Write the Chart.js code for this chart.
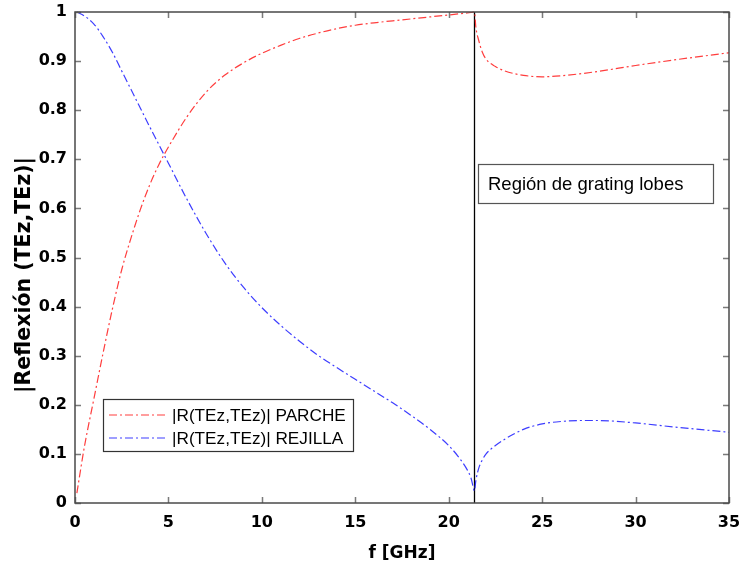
<!DOCTYPE html>
<html>
<head>
<meta charset="utf-8">
<script src="https://cdn.jsdelivr.net/npm/chart.js@4"></script>
<style>
  html, body { margin: 0; padding: 0; background: #ffffff; }
  #wrap { width: 740px; height: 569px; }
</style>
</head>
<body>
<div id="wrap"><canvas id="chart" width="740" height="569"></canvas></div>
<script>
// Frequency samples (GHz)
const freqGHz = [
  0.1, 0.5, 1.0, 1.5, 2.0, 2.5, 3.0, 3.5, 4.0, 4.5, 5.0, 6.0, 7.0, 8.0, 9.0,
  10, 11, 12, 13, 14, 15, 16, 17, 18, 19, 20, 20.5, 21.0, 21.2, 21.38,
  21.45, 21.6, 21.8, 22.0, 22.5, 23, 24, 25, 26, 27, 28, 30, 32, 35
];

// |R(TEz,TEz)| for the patch array
const parche = [
  0.020, 0.114, 0.210, 0.305, 0.395, 0.475, 0.540, 0.598, 0.648, 0.690, 0.725, 0.787, 0.836, 0.871, 0.896,
  0.916, 0.932, 0.946, 0.957, 0.966, 0.973, 0.978, 0.982, 0.986, 0.990, 0.994, 0.996, 0.998, 0.999, 1.000,
  0.970, 0.943, 0.918, 0.904, 0.889, 0.880, 0.871, 0.868, 0.870, 0.874, 0.879, 0.891, 0.902, 0.917
];

// |R(TEz,TEz)| for the grid (rejilla)
const rejilla = [
  1.000, 0.992, 0.976, 0.950, 0.918, 0.880, 0.842, 0.804, 0.766, 0.729, 0.692, 0.618, 0.550, 0.490, 0.440,
  0.398, 0.362, 0.330, 0.301, 0.276, 0.252, 0.228, 0.204, 0.178, 0.150, 0.117, 0.095, 0.067, 0.050, 0.025,
  0.045, 0.070, 0.088, 0.100, 0.117, 0.130, 0.150, 0.161, 0.166, 0.168, 0.168, 0.163, 0.155, 0.144
];

// Onset of the grating-lobe region (GHz)
const gratingOnsetGHz = 21.38;

// Axis tick values
const xTickValues = [0, 5, 10, 15, 20, 25, 30, 35];
const yTickValues = [0, 0.1, 0.2, 0.3, 0.4, 0.5, 0.6, 0.7, 0.8, 0.9, 1];

const seriesLabels = ['|R(TEz,TEz)| PARCHE', '|R(TEz,TEz)| REJILLA'];
const yAxisLabel = '|Reflexión (TEz,TEz)|';
const annotationText = 'Región de grating lobes';

const dashDot = [8, 3, 2, 3];
const textFont = '"Liberation Sans", Arial, sans-serif';
const boldFont = '"DejaVu Sans", sans-serif';

function toPoints(xs, ys) {
  return xs.map((x, i) => ({ x: x, y: ys[i] }));
}

// Inward tick marks on all four sides, the axes box, y label, note and legend
const axesBoxPlugin = {
  id: 'axesBox',
  afterDatasetsDraw(chart) {
    const { ctx, chartArea: a, scales } = chart;
    const tick = 6;
    ctx.save();
    ctx.strokeStyle = '#7a7a7a';
    ctx.lineWidth = 1.5;
    ctx.beginPath();
    scales.x.ticks.forEach(t => {
      const px = Math.round(scales.x.getPixelForValue(t.value)) + 0.5;
      ctx.moveTo(px, a.bottom); ctx.lineTo(px, a.bottom - tick);
      ctx.moveTo(px, a.top); ctx.lineTo(px, a.top + tick);
    });
    scales.y.ticks.forEach(t => {
      const py = Math.round(scales.y.getPixelForValue(t.value)) + 0.5;
      ctx.moveTo(a.left, py); ctx.lineTo(a.left + tick, py);
      ctx.moveTo(a.right, py); ctx.lineTo(a.right - tick, py);
    });
    ctx.stroke();
    ctx.strokeStyle = '#4a4a4a';
    ctx.lineWidth = 1.5;
    ctx.strokeRect(a.left, a.top, a.right - a.left, a.bottom - a.top);
    ctx.restore();
  },
  afterDraw(chart) {
    const { ctx } = chart;
    ctx.save();

    // Rotated y-axis label
    ctx.save();
    ctx.translate(25, 275);
    ctx.rotate(-Math.PI / 2);
    ctx.fillStyle = '#000000';
    ctx.font = 'bold 20.5px ' + boldFont;
    ctx.textAlign = 'center';
    ctx.textBaseline = 'middle';
    ctx.fillText(yAxisLabel, 0, 0);
    ctx.restore();

    // Text box marking the grating-lobe region
    const bx = 478, by = 164, bw = 235, bh = 39;
    ctx.fillStyle = '#ffffff';
    ctx.fillRect(bx, by, bw, bh);
    ctx.strokeStyle = '#555555';
    ctx.lineWidth = 1.2;
    ctx.strokeRect(bx + 0.5, by + 0.5, bw, bh);
    ctx.fillStyle = '#000000';
    ctx.font = '18.5px ' + textFont;
    ctx.textBaseline = 'middle';
    ctx.textAlign = 'left';
    ctx.fillText(annotationText, bx + 10, by + bh / 2 + 1);

    // Legend
    const lx = 103, ly = 399, lw = 250, lh = 52;
    ctx.fillStyle = '#ffffff';
    ctx.fillRect(lx, ly, lw, lh);
    ctx.strokeStyle = '#333333';
    ctx.lineWidth = 1.2;
    ctx.strokeRect(lx + 0.5, ly + 0.5, lw, lh);
    ctx.font = '17.2px ' + textFont;
    const shown = chart.data.datasets.filter(d => d.inLegend);
    shown.forEach((d, i) => {
      const ry = ly + 16 + i * 23;
      ctx.strokeStyle = d.borderColor;
      ctx.lineWidth = d.borderWidth;
      ctx.setLineDash(d.borderDash);
      ctx.beginPath();
      ctx.moveTo(lx + 6, ry);
      ctx.lineTo(lx + 62, ry);
      ctx.stroke();
      ctx.setLineDash([]);
      ctx.fillStyle = '#000000';
      ctx.fillText(d.label, lx + 69, ry + 1);
    });
    ctx.restore();
  }
};

new Chart(document.getElementById('chart'), {
  type: 'line',
  data: {
    datasets: [
      {
        label: seriesLabels[0],
        data: toPoints(freqGHz, parche),
        borderColor: 'rgba(255, 40, 40, 0.9)',
        borderWidth: 1.2,
        borderDash: dashDot,
        pointRadius: 0,
        cubicInterpolationMode: 'monotone',
        fill: false,
        clip: 3,
        inLegend: true
      },
      {
        label: seriesLabels[1],
        data: toPoints(freqGHz, rejilla),
        borderColor: 'rgba(40, 40, 255, 0.9)',
        borderWidth: 1.2,
        borderDash: dashDot,
        pointRadius: 0,
        cubicInterpolationMode: 'monotone',
        fill: false,
        clip: 3,
        inLegend: true
      },
      {
        label: 'grating',
        data: [{ x: gratingOnsetGHz, y: 0 }, { x: gratingOnsetGHz, y: 1 }],
        borderColor: '#000000',
        borderWidth: 1.3,
        pointRadius: 0,
        fill: false,
        inLegend: false
      }
    ]
  },
  options: {
    responsive: false,
    animation: false,
    events: [],
    layout: { padding: { top: 12, right: 11, left: 0, bottom: 0 } },
    plugins: {
      legend: { display: false },
      tooltip: { enabled: false }
    },
    scales: {
      x: {
        type: 'linear',
        min: 0, max: 35,
        afterBuildTicks: s => { s.ticks = xTickValues.map(v => ({ value: v })); },
        afterFit: s => { s.height = 66; s.paddingLeft = 0; s.paddingRight = 0; },
        grid: { display: false, drawTicks: false },
        border: { display: false },
        ticks: {
          padding: 10,
          color: '#000000',
          font: { family: boldFont, weight: 'bold', size: 16 },
          callback: v => String(v)
        },
        title: {
          display: true,
          text: 'f [GHz]',
          color: '#000000',
          font: { family: boldFont, weight: 'bold', size: 17 },
          padding: { top: 0, bottom: 5 }
        }
      },
      y: {
        type: 'linear',
        min: 0, max: 1,
        afterBuildTicks: s => { s.ticks = yTickValues.map(v => ({ value: v })); },
        afterFit: s => { s.width = 75; s.paddingTop = 0; s.paddingBottom = 0; },
        grid: { display: false, drawTicks: false },
        border: { display: false },
        ticks: {
          padding: 8,
          color: '#000000',
          font: { family: boldFont, weight: 'bold', size: 16 },
          callback: v => String(v)
        },
        title: { display: false }
      }
    }
  },
  plugins: [axesBoxPlugin]
});
</script>
</body>
</html>
